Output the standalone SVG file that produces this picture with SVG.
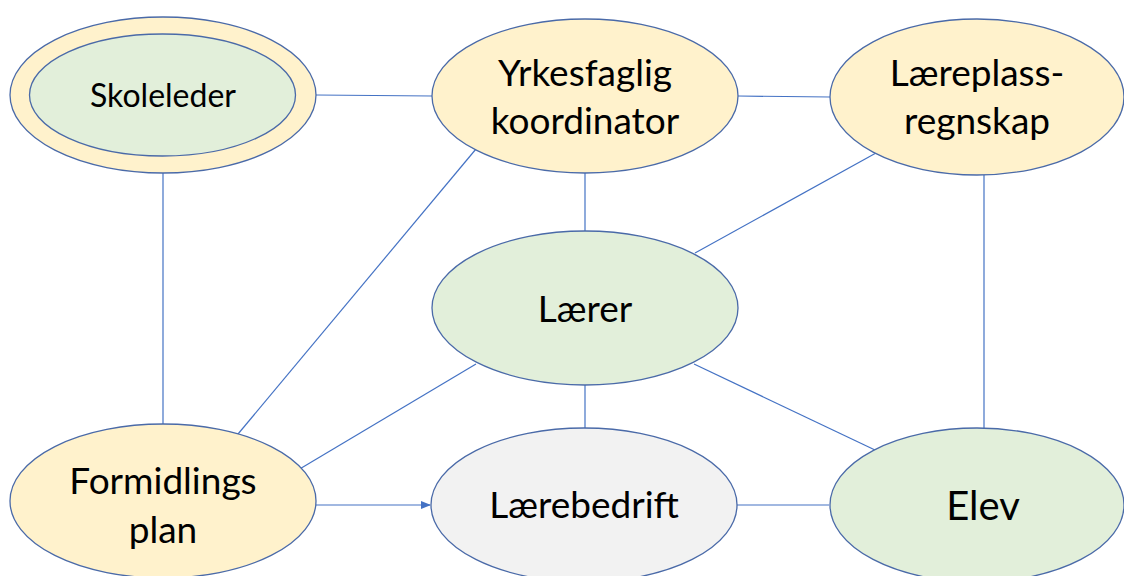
<svg xmlns="http://www.w3.org/2000/svg" width="1124" height="576" viewBox="0 0 1124 576">
<style>
.n{stroke:#4a6aa8;stroke-width:1.3}
.y{fill:#fff2cc}.g{fill:#e2efda}.gr{fill:#f2f2f2}
.c line{stroke:#4472c4;stroke-width:1.2}
text{font-family:Lato,"Open Sans","Liberation Sans",sans-serif;fill:#000;text-anchor:middle}
</style>
<defs>
<marker id="ah" markerWidth="10" markerHeight="8" refX="9" refY="4" orient="auto" markerUnits="userSpaceOnUse">
<path d="M0,0 L10,4 L0,8 z" fill="#4472c4"/>
</marker>
</defs>
<rect width="1124" height="576" fill="#fff"/>
<g class="c">
<line x1="316" y1="95" x2="432" y2="96"/>
<line x1="738" y1="96" x2="830" y2="97"/>
<line x1="163" y1="173" x2="163" y2="424"/>
<line x1="585" y1="173" x2="585" y2="232"/>
<line x1="476" y1="149" x2="233" y2="440"/>
<line x1="876" y1="153" x2="695" y2="253"/>
<line x1="984" y1="175" x2="984" y2="428"/>
<line x1="585" y1="385" x2="585" y2="428"/>
<line x1="476" y1="364" x2="298" y2="470"/>
<line x1="694" y1="364" x2="875" y2="450"/>
<line x1="316" y1="505" x2="430" y2="505" marker-end="url(#ah)"/>
<line x1="737" y1="505" x2="829" y2="505"/>
</g>
<g id="skoleleder">
<ellipse class="n y" cx="163" cy="95" rx="153" ry="78"/>
<ellipse class="n g" cx="162.5" cy="95" rx="133" ry="61"/>
<text x="163" y="107" font-size="32">Skoleleder</text>
</g>
<g id="yrkesfaglig">
<ellipse class="n y" cx="585" cy="96" rx="153" ry="77"/>
<text x="585" y="86" font-size="37">Yrkesfaglig</text>
<text x="585" y="134" font-size="37">koordinator</text>
</g>
<g id="laereplass">
<ellipse class="n y" cx="977" cy="97" rx="147" ry="78"/>
<text x="977" y="86" font-size="37">Læreplass-</text>
<text x="977" y="134" font-size="37">regnskap</text>
</g>
<g id="laerer">
<ellipse class="n g" cx="585" cy="308" rx="153" ry="77"/>
<text x="585" y="322" font-size="37">Lærer</text>
</g>
<g id="formidlingsplan">
<ellipse class="n y" cx="163" cy="501" rx="153" ry="77"/>
<text x="163" y="494" font-size="37">Formidlings</text>
<text x="163" y="543" font-size="37">plan</text>
</g>
<g id="laerebedrift">
<ellipse class="n gr" cx="584" cy="505" rx="153" ry="77"/>
<text x="584" y="518" font-size="37">Lærebedrift</text>
</g>
<g id="elev">
<ellipse class="n g" cx="977" cy="505" rx="147" ry="77"/>
<text x="983" y="520" font-size="40">Elev</text>
</g>
</svg>
